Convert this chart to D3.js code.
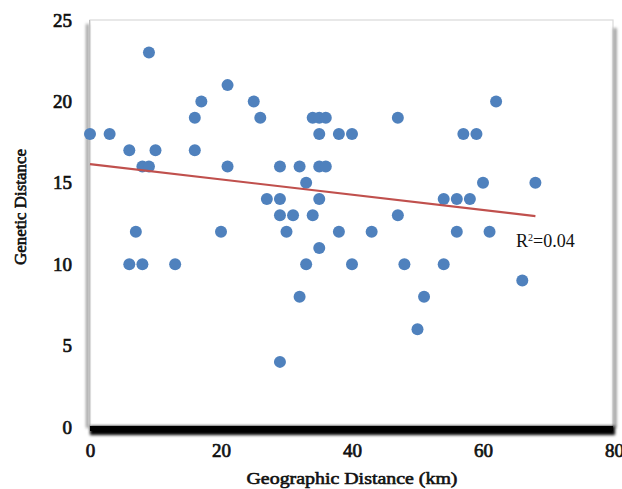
<!DOCTYPE html>
<html>
<head>
<meta charset="utf-8">
<script src="https://cdn.jsdelivr.net/npm/d3@7"></script>
<style>
  body { margin: 0; background: #fff; }
  svg { display: block; }
  .serif { font-family: "Liberation Serif", "Times New Roman", serif; fill: #111; }
  .heavy { font-weight: normal; stroke: #111; stroke-width: 0.7px; }
</style>
</head>
<body>
<svg id="chart" width="622" height="489"></svg>
<script>
// geographic distance (km) and genetic distance
var geoDist = [9, 21, 17, 25, 62, 16, 26, 34, 35, 36, 47,
    0, 3, 35, 38, 40, 57, 59, 6, 10, 16,
    8, 9, 21, 29, 32, 35, 36, 33, 60, 68,
    27, 29, 35, 54, 56, 58, 29, 31, 34, 47,
    7, 20, 30, 38, 43, 56, 61, 35,
    6, 8, 13, 33, 40, 48, 54, 66, 32, 51, 50, 29];
var genDist = [23, 21, 20, 20, 20, 19, 19, 19, 19, 19, 19,
    18, 18, 18, 18, 18, 18, 18, 17, 17, 17,
    16, 16, 16, 16, 16, 16, 16, 15, 15, 15,
    14, 14, 14, 14, 14, 14, 13, 13, 13, 13,
    12, 12, 12, 12, 12, 12, 12, 11,
    10, 10, 10, 10, 10, 10, 10, 9, 8, 8, 6, 4];

// linear trend line ends
var trendX = [0, 68];
var trendY = [16.15, 12.95];

var xTicks = [0, 20, 40, 60, 80];
var yTicks = [0, 5, 10, 15, 20, 25];

var svg = d3.select("#chart");

var xScale = d3.scaleLinear().domain([0, 80]).range([90, 614]);
var yScale = d3.scaleLinear().domain([0, 25]).range([427, 20]);

var defs = svg.append("defs");
defs.append("filter").attr("id", "blur").attr("x", "-20%").attr("y", "-200%").attr("width", "140%").attr("height", "500%")
    .append("feGaussianBlur").attr("stdDeviation", 1.5);
defs.append("filter").attr("id", "blurV").attr("x", "-300%").attr("y", "-20%").attr("width", "700%").attr("height", "140%")
    .append("feGaussianBlur").attr("stdDeviation", 1.5);

// plot frame
svg.append("rect")
    .attr("x", 90).attr("y", 20).attr("width", 523).attr("height", 407)
    .attr("fill", "#fff").attr("stroke", "#d9d9d9").attr("stroke-width", 1.2);

// right side shadow
svg.append("rect")
    .attr("x", 613.5).attr("y", 28).attr("width", 3).attr("height", 400)
    .attr("fill", "#8c8c8c").attr("filter", "url(#blurV)");

// left axis with shadow
svg.append("rect")
    .attr("x", 86).attr("y", 24).attr("width", 3).attr("height", 404)
    .attr("fill", "#9a9a9a").attr("filter", "url(#blurV)");
svg.append("line")
    .attr("x1", 89.5).attr("x2", 89.5).attr("y1", 20).attr("y2", 427)
    .attr("stroke", "#bfbfbf").attr("stroke-width", 1);

// heavy bottom axis
svg.append("rect")
    .attr("x", 90).attr("y", 426).attr("width", 525).attr("height", 9)
    .attr("fill", "#000").attr("filter", "url(#blur)");
svg.append("rect")
    .attr("x", 90).attr("y", 426).attr("width", 523).attr("height", 5)
    .attr("fill", "#000");

// tick labels
var xAxis = svg.append("g")
    .attr("transform", "translate(0,427)")
    .call(d3.axisBottom(xScale).tickValues(xTicks).tickSize(0).tickPadding(17));
xAxis.select(".domain").remove();

var yAxis = svg.append("g")
    .attr("transform", "translate(90,0)")
    .call(d3.axisLeft(yScale).tickValues(yTicks).tickSize(0).tickPadding(18));
yAxis.select(".domain").remove();

svg.selectAll(".tick text")
    .attr("class", "serif heavy")
    .attr("font-family", null)
    .style("font-size", "19px");

// points
svg.append("g").selectAll("circle")
    .data(geoDist)
    .enter().append("circle")
    .attr("cx", function(d) { return xScale(d); })
    .attr("cy", function(d, i) { return yScale(genDist[i]); })
    .attr("r", 6)
    .style("fill", "#4f81bd");

// trend line
var line = d3.line()
    .x(function(d) { return xScale(d); })
    .y(function(d, i) { return yScale(trendY[i]); });
svg.append("path")
    .datum(trendX)
    .attr("d", line)
    .attr("fill", "none")
    .attr("stroke", "#c0504d")
    .attr("stroke-width", 2.2);

// R squared label
var r2 = svg.append("text")
    .attr("class", "serif")
    .attr("x", 516).attr("y", 247)
    .style("font-size", "18px");
r2.append("tspan").text("R");
r2.append("tspan").attr("dy", -6).style("font-size", "10px").text("2");
r2.append("tspan").attr("dy", 6).text("=0.04");

// axis titles
svg.append("text")
    .attr("class", "serif heavy")
    .attr("x", 352).attr("y", 484)
    .attr("text-anchor", "middle")
    .attr("textLength", 211)
    .attr("lengthAdjust", "spacingAndGlyphs")
    .style("font-size", "17px")
    .style("stroke-width", "0.6px")
    .text("Geographic Distance (km)");

svg.append("text")
    .attr("class", "serif heavy")
    .attr("transform", "translate(26,207) rotate(-90)")
    .attr("text-anchor", "middle")
    .attr("textLength", 116)
    .attr("lengthAdjust", "spacingAndGlyphs")
    .style("font-size", "16px")
    .style("stroke-width", "0.6px")
    .text("Genetic Distance");
</script>
</body>
</html>
